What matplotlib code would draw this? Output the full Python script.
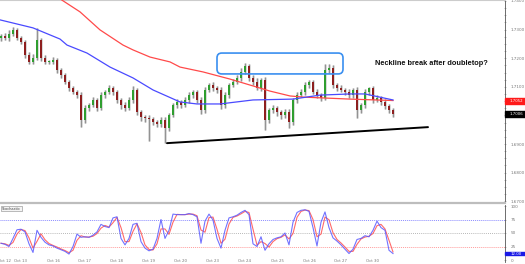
import matplotlib
matplotlib.use("Agg")
import matplotlib.pyplot as plt
import numpy as np
import pandas as pd
from matplotlib.patches import Rectangle, FancyBboxPatch
from matplotlib.transforms import blended_transform_factory

# closing prices, one per bar
closes = [1.7278, 1.7271, 1.7285, 1.7299, 1.7271, 1.7257, 1.7211, 1.7187, 1.7201, 1.7264,
          1.7201, 1.7187, 1.7187, 1.7194, 1.7159, 1.7141, 1.7117, 1.7096, 1.7082, 1.7071,
          1.6984, 1.7026, 1.7036, 1.7054, 1.7026, 1.7071, 1.7082, 1.7096, 1.7082, 1.7054,
          1.7036, 1.7026, 1.7054, 1.7089, 1.7012, 1.6994, 1.6991, 1.6988, 1.6977, 1.6970,
          1.6984, 1.6956, 1.7001, 1.7036, 1.7047, 1.7036, 1.7054, 1.7071, 1.7082, 1.7054,
          1.7019, 1.7089, 1.7106, 1.7096, 1.7089, 1.7036, 1.7071, 1.7106, 1.7117, 1.7131,
          1.7152, 1.7173, 1.7131, 1.7117, 1.7096, 1.7124, 1.6984, 1.7019, 1.7026, 1.7012,
          1.7001, 1.7012, 1.6977, 1.7054, 1.7071, 1.7082, 1.7106, 1.7117, 1.7082, 1.7071,
          1.7061, 1.7159, 1.7166, 1.7106, 1.7096, 1.7089, 1.7082, 1.7071, 1.7089, 1.7019,
          1.7036, 1.7082, 1.7096, 1.7054, 1.7061, 1.7047, 1.7033, 1.7019, 1.7006]
first_open = 1.7270
# wick length beyond the body, in pips
wick_up = [8, 10, 12, 9, 6, 8, 7, 10, 12, 42, 8, 9, 7, 10, 8, 6, 9, 7, 8, 6,
           10, 9, 8, 10, 7, 12, 8, 9, 6, 7, 8, 10, 9, 14, 6, 8, 7, 9, 8, 6,
           10, 12, 9, 8, 10, 7, 9, 12, 8, 7, 10, 9, 8, 10, 6, 9, 10, 8, 9, 10,
           12, 10, 8, 9, 14, 8, 10, 7, 9, 8, 6, 9, 10, 8, 12, 9, 10, 8, 7, 9,
           8, 21, 12, 9, 8, 10, 7, 9, 8, 10, 8, 9, 4, 8, 10, 7, 9, 8, 6]
wick_dn = [9, 8, 10, 7, 9, 8, 10, 9, 7, 8, 10, 9, 8, 7, 9, 10, 8, 9, 7, 10,
           24, 10, 9, 8, 10, 7, 9, 8, 10, 9, 12, 10, 8, 9, 10, 12, 14, 77, 10, 12,
           9, 53, 10, 8, 9, 10, 8, 9, 10, 12, 14, 9, 8, 10, 9, 12, 10, 9, 8, 7,
           9, 8, 10, 9, 8, 10, 35, 12, 10, 14, 12, 10, 21, 10, 9, 8, 9, 10, 8, 9,
           10, 8, 9, 10, 9, 8, 10, 9, 10, 28, 12, 10, 9, 10, 8, 9, 10, 12, 10]

# moving averages, sampled at bar positions
red_ma_x = [13.5, 15.25, 19.75, 24.75, 30.5, 33, 37.25, 42.25, 44.75, 50.5, 57.25, 63, 67.25, 72.25, 75.5, 87.25, 98]
red_ma_y = [1.7421, 1.7403, 1.7362, 1.7299, 1.7246, 1.7229, 1.7204, 1.7187, 1.7169, 1.7152, 1.7127,
            1.7103, 1.7085, 1.7068, 1.7064, 1.7057, 1.7052]
blue_ma_x = [-0.25, 3, 8, 14.75, 16.5, 21.5, 27.25, 33, 38, 44.75, 49, 54.75, 63, 73, 79.75, 87.25, 91, 98]
blue_ma_y = [1.7334, 1.7323, 1.7306, 1.7267, 1.7246, 1.7218, 1.7169, 1.7131, 1.7089, 1.7047, 1.7040,
             1.7040, 1.7054, 1.7057, 1.7071, 1.7075, 1.7075, 1.7054]

# support (neckline) and the double-top zone
support_x = [41.5, 106.75]
support_y = [1.6903, 1.6959]
zone_x = [54, 85.5]
zone_y = [1.7145, 1.7218]

stoch_k = [31, 29, 25, 40, 56, 57, 52, 30, 14, 55, 42, 33, 28, 26, 22, 19, 16, 11, 25, 48,
           42, 43, 42, 46, 52, 66, 62, 60, 78, 80, 40, 28, 40, 66, 68, 34, 22, 17, 20, 40,
           75, 40, 55, 85, 84, 84, 84, 86, 84, 80, 31, 72, 85, 74, 40, 22, 55, 78, 80, 83,
           88, 92, 84, 30, 25, 43, 18, 30, 38, 41, 43, 50, 28, 70, 88, 92, 93, 90, 60, 26,
           70, 89, 60, 41, 35, 28, 20, 12, 20, 38, 40, 45, 43, 55, 72, 60, 55, 18, 12]

price_ticks = [1.67, 1.68, 1.69, 1.70, 1.71, 1.72, 1.73, 1.74]
# 1.7000 sits behind the last-price box, so it carries no label
price_labels = ["1.6700", "1.6800", "1.6900", "", "1.7100", "1.7200", "1.7300", "1.7400"]
stoch_ticks = [0, 25, 50, 75, 100]
date_pos = [1, 5, 13, 21, 29, 37, 45, 53, 61, 69, 77, 85, 93]
date_labels = ["Oct 12", "Oct 13", "Oct 16", "Oct 17", "Oct 18", "Oct 19", "Oct 20",
               "Oct 23", "Oct 24", "Oct 25", "Oct 26", "Oct 27", "Oct 30"]

W, H = 525, 264
fig = plt.figure(figsize=(W / 100, H / 100), dpi=100)
fig.patch.set_facecolor("white")

# main price panel: pixel rows 0..203, columns 0..505
ax = fig.add_axes([0, (H - 203) / H, 505 / W, 203 / H])
ax.set_xlim(-0.25, 126)
ax.set_ylim(1.74 - 202 / 2860, 1.74 + 1 / 2860)

n = len(closes)
idx = np.arange(n)
c = np.array(closes)
o = np.array([first_open] + closes[:-1])
hi = np.maximum(o, c) + np.array(wick_up) / 10000
lo = np.minimum(o, c) - np.array(wick_dn) / 10000
up = c >= o

ax.vlines(idx, lo, hi, color="#cfcfcf", lw=1.8, zorder=2)
ax.vlines(idx, lo, hi, color="#7a7a7a", lw=0.5, zorder=3)
body_lo = np.minimum(o, c)
body_h = np.maximum(np.abs(c - o), 0.00025)
ax.bar(idx[up], body_h[up], bottom=body_lo[up], width=0.42, color="#2f9e2f", zorder=4)
ax.bar(idx[~up], body_h[~up], bottom=body_lo[~up], width=0.42, color="#8e1f1f", zorder=4)

ax.plot(red_ma_x, red_ma_y, color="#ff4a4a", lw=0.9, zorder=5)
ax.plot(blue_ma_x, blue_ma_y, color="#4a4aff", lw=0.9, zorder=5)
ax.plot(support_x, support_y, color="black", lw=1.4, zorder=6, solid_capstyle="round")

zone = FancyBboxPatch((zone_x[0], zone_y[0]), zone_x[1] - zone_x[0], zone_y[1] - zone_y[0],
                      boxstyle="round,pad=0,rounding_size=1.2", mutation_aspect=4 / 2860,
                      fc="none", ec="#3a8ff0", lw=1.2, zorder=6)
ax.add_patch(zone)
ax.text(107.6, 1.7180, "Neckline break after doubletop?", ha="center", va="center",
        fontsize=5.3, fontweight="bold", family="Liberation Sans", color="#111111", zorder=7)

ax.yaxis.tick_right()
ax.set_yticks(price_ticks)
ax.set_yticklabels(price_labels)
ax.set_yticks(np.arange(1.67, 1.7401, 0.0025), minor=True)
ax.tick_params(axis="y", which="both", direction="inout", length=2, width=0.4,
               color="#888888", labelsize=3, labelcolor="#777777", pad=3)
ax.set_xticks([])
ax.spines["left"].set_visible(False)
ax.spines["right"].set_color("#555555")
ax.spines["right"].set_linewidth(0.6)
ax.spines["top"].set_color("#cccccc")
ax.spines["top"].set_linewidth(0.8)
ax.spines["bottom"].set_color("#bdbdbd")
ax.spines["bottom"].set_linewidth(1.6)

tr = blended_transform_factory(ax.transAxes, ax.transData)
for val, col in [(red_ma_y[-1], "#ff1a1a"), (closes[-1], "black")]:
    ax.add_patch(Rectangle((1.0, val - 0.00105), 20 / 505, 0.0021, transform=tr,
                           color=col, clip_on=False, zorder=8))
    ax.text(1.0 + 11 / 505, val, f"{val:.4f}", transform=tr, ha="center", va="center",
            fontsize=2.8, color="white", clip_on=False, zorder=9)

# stochastic panel: pixel rows 205..262
st = fig.add_axes([0, (H - 262) / H, 505 / W, 57 / H])
st.set_xlim(-0.25, 126)
st.set_ylim(-2 / 0.54, 55 / 0.54)
k = pd.Series(stoch_k, dtype=float)
d = k.rolling(2, min_periods=1).mean()
st.axhline(75, color="#8c8cff", lw=0.7, ls=(0, (1, 1)))
st.axhline(50, color="#a0a0a0", lw=0.6, ls=(0, (1, 1.5)))
st.axhline(25, color="#ff9c9c", lw=0.7, ls=(0, (1, 1)))
st.plot(idx, d, color="#ff5a5a", lw=0.8, alpha=0.9)
st.plot(idx, k, color="#5a5aff", lw=0.8, alpha=0.85)

st.yaxis.tick_right()
st.set_yticks(stoch_ticks)
st.set_yticklabels([str(t) for t in stoch_ticks])
st.tick_params(axis="y", direction="inout", length=2, width=0.4, color="#888888",
               labelsize=3, labelcolor="#777777", pad=3)
st.set_xticks([])
for s in ["left", "top", "bottom"]:
    st.spines[s].set_visible(False)
st.spines["right"].set_color("#555555")
st.spines["right"].set_linewidth(0.6)

trs = blended_transform_factory(st.transAxes, st.transData)
st.add_patch(Rectangle((1.0, stoch_k[-1] - 2.6), 20 / 505, 5.2, transform=trs,
                       color="#1a1ae6", clip_on=False, zorder=8))
st.text(1.0 + 11 / 505, stoch_k[-1], f"{stoch_k[-1]:.2f}", transform=trs, ha="center",
        va="center", fontsize=2.8, color="white", clip_on=False, zorder=9)

st.text(0.3, 99, "Stochastic", fontsize=2.6, color="#444444", va="top", ha="left",
        bbox=dict(boxstyle="square,pad=0.25", fc="#f4f4f4", ec="#888888", lw=0.4))

for p, lab in zip(date_pos, date_labels):
    st.text(p, -1.5, lab, ha="center", va="center", fontsize=2.8, color="#777777", clip_on=False)

fig.savefig("out.png", dpi=100)
